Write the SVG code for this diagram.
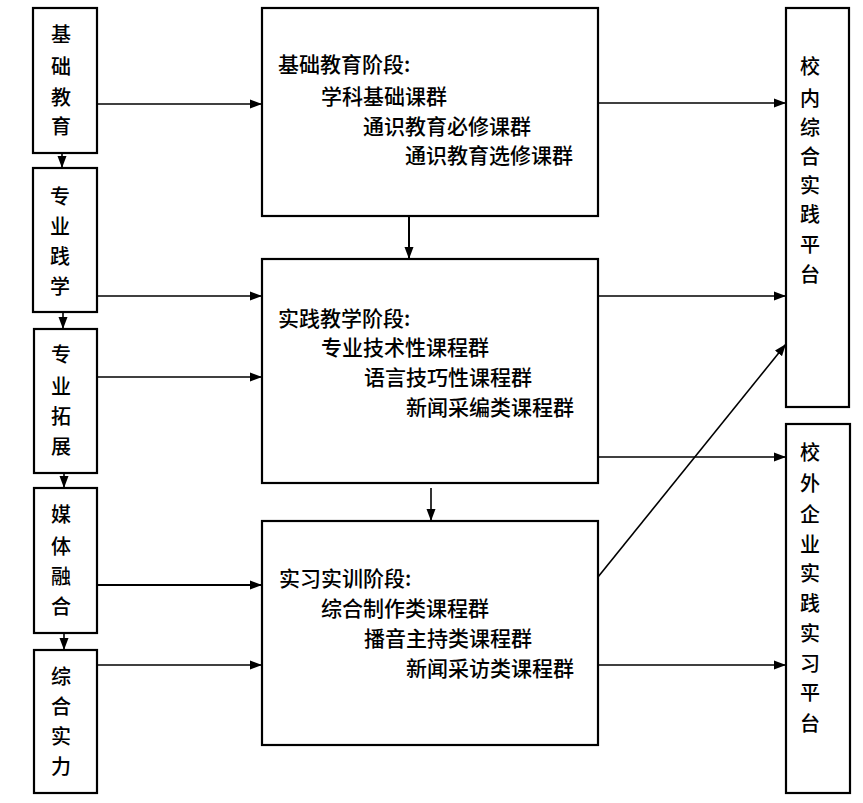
<svg xmlns="http://www.w3.org/2000/svg" width="863" height="803" viewBox="0 0 863 803">
<defs>
<style>
.box{fill:#fff;stroke:#000;stroke-width:2.2}
.ln{stroke:#000;stroke-width:1.6;fill:none}
text{font-family:"Noto Sans CJK SC","Noto Sans CJK JP",sans-serif;font-size:20px;font-weight:500;fill:#000}
.v{text-anchor:middle;dominant-baseline:central}
.s{dominant-baseline:central;font-size:21px}
</style>
<marker id="ah" viewBox="0 0 12 10" refX="12" refY="5" markerWidth="12" markerHeight="10" markerUnits="userSpaceOnUse" orient="auto">
<path d="M0,0.5 L12,5 L0,9.5 Z" fill="#000"/>
</marker>
</defs>
<rect width="863" height="803" fill="#fff"/>
<g id="connectors">
<line class="ln" x1="62" y1="153" x2="62" y2="168" marker-end="url(#ah)"/>
<line class="ln" x1="63" y1="312" x2="63" y2="329" marker-end="url(#ah)"/>
<line class="ln" x1="64" y1="473" x2="64" y2="488" marker-end="url(#ah)"/>
<line class="ln" x1="64" y1="633" x2="64" y2="650" marker-end="url(#ah)"/>
<line class="ln" x1="97" y1="104" x2="262" y2="104" marker-end="url(#ah)"/>
<line class="ln" x1="97" y1="296" x2="262" y2="296" marker-end="url(#ah)"/>
<line class="ln" x1="97" y1="377" x2="262" y2="377" marker-end="url(#ah)"/>
<line class="ln" x1="97" y1="585" x2="262" y2="585" marker-end="url(#ah)" style="stroke-width:2.2"/>
<line class="ln" x1="97" y1="665" x2="262" y2="665" marker-end="url(#ah)"/>
<line class="ln" x1="409" y1="216" x2="409" y2="259" marker-end="url(#ah)" style="stroke-width:2"/>
<line class="ln" x1="431" y1="488" x2="431" y2="521" marker-end="url(#ah)"/>
<line class="ln" x1="598" y1="103" x2="786" y2="103" marker-end="url(#ah)"/>
<line class="ln" x1="598" y1="296" x2="786" y2="296" marker-end="url(#ah)"/>
<line class="ln" x1="598" y1="457" x2="786" y2="457" marker-end="url(#ah)"/>
<line class="ln" x1="598" y1="665" x2="786" y2="665" marker-end="url(#ah)"/>
<line class="ln" x1="598" y1="577" x2="786" y2="344" marker-end="url(#ah)"/>
</g>
<g id="n-jichu">
<rect class="box" x="33" y="8" width="64" height="145"/>
<text class="v" x="61" y="33">基</text><text class="v" x="61" y="65">础</text><text class="v" x="61" y="96">教</text><text class="v" x="61" y="125">育</text>
</g>
<g id="n-jianxue">
<rect class="box" x="33" y="168" width="64" height="144"/>
<text class="v" x="60" y="195">专</text><text class="v" x="60" y="225">业</text><text class="v" x="60" y="255">践</text><text class="v" x="60" y="285">学</text>
</g>
<g id="n-tuozhan">
<rect class="box" x="34" y="329" width="63" height="144"/>
<text class="v" x="61" y="353">专</text><text class="v" x="61" y="385">业</text><text class="v" x="61" y="415">拓</text><text class="v" x="61" y="445">展</text>
</g>
<g id="n-ronghe">
<rect class="box" x="34" y="488" width="63" height="145"/>
<text class="v" x="61" y="513">媒</text><text class="v" x="61" y="545">体</text><text class="v" x="61" y="575">融</text><text class="v" x="61" y="605">合</text>
</g>
<g id="n-shili">
<rect class="box" x="34" y="650" width="63" height="143"/>
<text class="v" x="61" y="675">综</text><text class="v" x="61" y="705">合</text><text class="v" x="61" y="735">实</text><text class="v" x="61" y="765">力</text>
</g>
<g id="n-stage1">
<rect class="box" x="262" y="8" width="336" height="208"/>
<text class="s" x="278" y="63">基础教育阶段:</text>
<text class="s" x="321" y="95">学科基础课群</text>
<text class="s" x="363" y="125">通识教育必修课群</text>
<text class="s" x="405" y="154">通识教育选修课群</text>
</g>
<g id="n-stage2">
<rect class="box" x="262" y="259" width="336" height="224"/>
<text class="s" x="278" y="317">实践教学阶段:</text>
<text class="s" x="321" y="346">专业技术性课程群</text>
<text class="s" x="364" y="376">语言技巧性课程群</text>
<text class="s" x="406" y="406">新闻采编类课程群</text>
</g>
<g id="n-stage3">
<rect class="box" x="262" y="521" width="336" height="224"/>
<text class="s" x="279" y="577">实习实训阶段:</text>
<text class="s" x="321" y="607">综合制作类课程群</text>
<text class="s" x="364" y="637">播音主持类课程群</text>
<text class="s" x="406" y="667">新闻采访类课程群</text>
</g>
<g id="n-xiaonei">
<rect class="box" x="786" y="8" width="63" height="399"/>
<text class="v" x="810" y="65">校</text><text class="v" x="810" y="97">内</text><text class="v" x="810" y="126">综</text><text class="v" x="810" y="155">合</text><text class="v" x="810" y="184">实</text><text class="v" x="810" y="213">践</text><text class="v" x="810" y="243">平</text><text class="v" x="810" y="273">台</text>
</g>
<g id="n-xiaowai">
<rect class="box" x="786" y="424" width="64" height="369"/>
<text class="v" x="810" y="451">校</text><text class="v" x="810" y="482">外</text><text class="v" x="810" y="513">企</text><text class="v" x="810" y="543">业</text><text class="v" x="810" y="572">实</text><text class="v" x="810" y="602">践</text><text class="v" x="810" y="632">实</text><text class="v" x="810" y="662">习</text><text class="v" x="810" y="691">平</text><text class="v" x="810" y="722">台</text>
</g>
</svg>
